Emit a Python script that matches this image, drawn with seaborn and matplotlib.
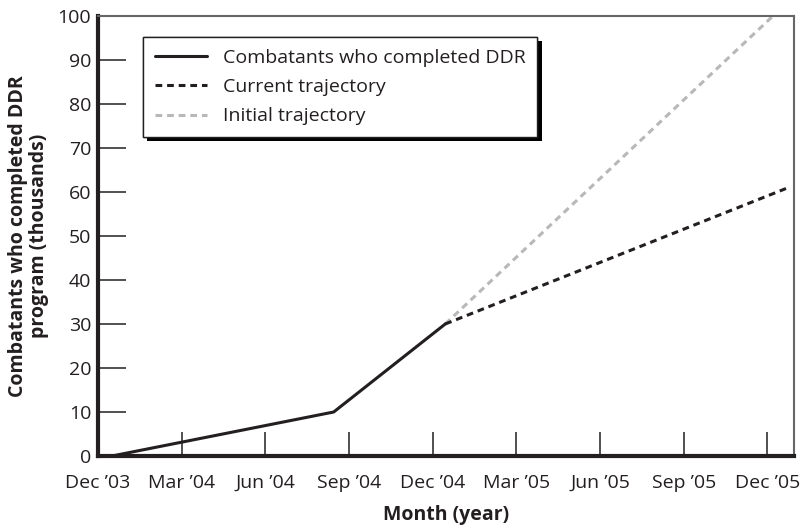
import matplotlib
matplotlib.use("Agg")
import matplotlib.pyplot as plt
import matplotlib.patheffects as pe
import pandas as pd
import seaborn as sns

# months counted from Dec '03 (0) to Dec '05 (24)
months_completed = [0.5, 8.45, 12.45]
completed = [0, 10, 30]
months_current = [12.45, 24.75]
current = [30, 61]
months_initial = [12.45, 24.2]
initial = [30, 100]

tick_months = [0, 3, 6, 9, 12, 15, 18, 21, 24]
tick_labels = ["Dec \u201903", "Mar \u201904", "Jun \u201904", "Sep \u201904", "Dec \u201904",
               "Mar \u201905", "Jun \u201905", "Sep \u201905", "Dec \u201905"]
y_ticks = [0, 10, 20, 30, 40, 50, 60, 70, 80, 90, 100]

sns.set_style("white")
plt.rcParams['font.family'] = ['Open Sans', 'DejaVu Sans']

dark = "#231f20"
fs = 14

fig = plt.figure(figsize=(8.06, 5.29), dpi=100)
ax = fig.add_axes([0.1216, 0.138, 0.8634, 0.8318])

df_done = pd.DataFrame({"month": months_completed, "value": completed})
df_cur = pd.DataFrame({"month": months_current, "value": current})
df_init = pd.DataFrame({"month": months_initial, "value": initial})

sns.lineplot(data=df_init, x="month", y="value", ax=ax, color="#b8b8b8",
             linewidth=2.2, linestyle=(0, (2.2, 1.6)), label="Initial trajectory")
sns.lineplot(data=df_cur, x="month", y="value", ax=ax, color=dark,
             linewidth=2.2, linestyle=(0, (2.2, 1.6)), label="Current trajectory")
sns.lineplot(data=df_done, x="month", y="value", ax=ax, color=dark,
             linewidth=2.2, label="Combatants who completed DDR")

ax.set_xlim(0, 24.95)
ax.set_ylim(0, 100)
ax.set_xticks(tick_months)
ax.set_xticklabels(tick_labels)
ax.set_yticks(y_ticks)
ax.tick_params(axis="both", direction="in", labelsize=fs, colors=dark, width=1.1,
               bottom=True, left=True, top=False, right=False)
ax.tick_params(axis="x", length=17, pad=13)
ax.tick_params(axis="y", length=20, pad=5)

for side in ["left", "bottom"]:
    ax.spines[side].set_linewidth(3)
    ax.spines[side].set_color(dark)
for side in ["top", "right"]:
    ax.spines[side].set_linewidth(1.5)
    ax.spines[side].set_color("#666666")

ax.set_xlabel("Month (year)", fontsize=fs, fontweight="bold", color=dark, labelpad=9)
ax.set_ylabel("Combatants who completed DDR\nprogram (thousands)", fontsize=fs,
              fontweight="bold", color=dark, labelpad=6, linespacing=1.05)

handles, labels = ax.get_legend_handles_labels()
order = [2, 1, 0]
leg = ax.legend([handles[i] for i in order], [labels[i] for i in order],
                loc="upper left", bbox_to_anchor=(0.065, 0.952), borderaxespad=0,
                fontsize=fs, frameon=True, fancybox=False, handlelength=2.7,
                labelspacing=0.58, borderpad=0.6, handletextpad=0.8)
frame = leg.get_frame()
frame.set_edgecolor(dark)
frame.set_linewidth(1.0)
frame.set_alpha(1)
frame.set_path_effects([pe.withSimplePatchShadow(offset=(3, -3), shadow_rgbFace="k", alpha=1),
                        pe.Normal()])
for t in leg.get_texts():
    t.set_color(dark)

fig.savefig("out.png", dpi=100)
